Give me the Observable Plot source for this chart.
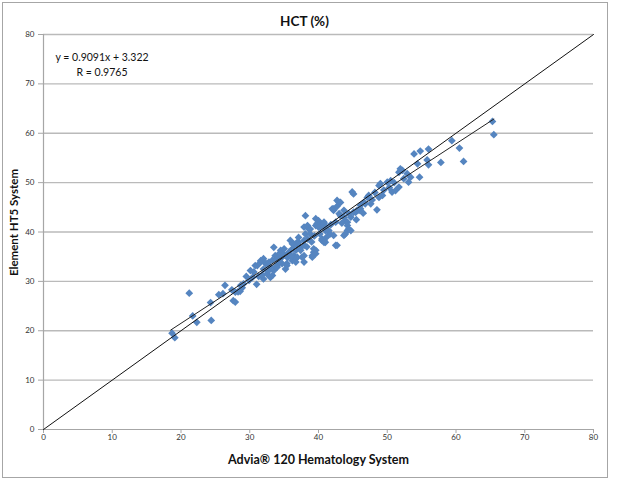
<!DOCTYPE html>
<html><head><meta charset="utf-8">
<script src="https://cdn.jsdelivr.net/npm/d3@7"></script>
<script src="https://cdn.jsdelivr.net/npm/@observablehq/plot@0.6"></script>
<style>
html,body{margin:0;padding:0;background:#fff;}
#chart{position:absolute;left:2px;top:2px;border:1px solid #a6a6a6;width:604px;height:474px;overflow:hidden;background:#fff;}
</style></head><body><div id="chart"></div>
<script>
// Advia 120 (x) vs Element HT5 (y) HCT values
const advia = [
18.7,19.1,21.2,21.7,22.3,24.4,24.3,25.5,26.1,26.4,27.4,27.6,27.9,27.9,28.3,28.6,28.7,28.9,29.1,29.9,29.5,
30.1,30.6,30.8,31.0,31.1,31.3,31.6,31.6,32.0,32.0,32.0,32.3,32.5,32.5,32.8,33.0,33.0,33.3,33.5,33.5,33.7,33.3,34.0,34.0,34.0,34.2,34.5,34.5,34.7,34.7,34.9,35.0,35.2,35.4,35.4,30.4,31.8,32.7,33.8,34.3,
35.7,35.7,35.9,36.2,36.2,36.2,36.4,36.4,36.7,36.7,36.7,36.9,36.9,36.9,37.1,37.1,37.4,37.4,37.6,37.9,37.9,37.9,37.9,37.9,38.1,38.1,38.4,38.4,38.6,38.8,38.8,39.1,39.1,39.3,39.3,39.6,39.6,39.6,39.8,39.6,38.3,39.0,39.4,35.5,36.0,
40.0,40.0,40.3,40.3,40.5,40.5,40.8,40.8,40.8,40.8,40.8,41.0,41.0,41.0,41.3,41.5,41.7,42.0,42.2,42.2,42.2,42.5,42.7,42.7,42.7,43.0,43.0,43.2,43.2,43.7,43.7,43.7,43.9,43.9,44.2,44.2,44.2,44.4,44.4,44.7,44.7,44.9,41.8,42.5,43.4,40.2,41.2,
45.1,45.1,45.4,45.6,45.9,46.1,46.1,46.6,46.8,47.1,47.3,47.6,48.5,48.8,48.8,49.0,49.3,45.5,46.5,47.8,48.2,49.5,
50.0,50.5,50.7,51.2,51.7,51.7,51.9,52.2,52.4,52.9,53.1,53.4,53.9,54.4,54.7,54.8,55.8,56.0,56.0,50.3,51.0,
57.8,59.4,60.5,61.1,65.3,65.5
];
const ht5 = [
19.5,18.6,27.6,23.0,21.7,22.1,25.7,27.3,27.5,29.2,28.3,26.1,25.8,27.8,27.9,28.0,29.2,28.7,29.5,30.2,31.0,
32.2,31.9,33.2,29.4,33.2,31.0,33.9,34.2,34.6,32.5,30.5,33.6,33.6,31.5,33.9,32.9,30.8,31.2,32.2,36.9,35.2,34.3,35.2,34.6,32.9,33.6,35.9,36.3,34.9,33.6,35.6,36.6,32.5,33.6,33.2,30.8,31.3,32.1,33.0,34.0,
35.6,35.9,38.3,36.6,37.6,34.2,35.2,37.6,34.6,36.3,33.9,34.9,36.9,37.9,37.9,38.9,36.9,36.3,34.9,37.3,35.2,33.9,38.3,41.0,39.6,43.3,41.3,38.6,40.6,40.6,39.6,35.2,34.9,35.9,36.6,36.3,41.3,42.7,41.7,35.6,37.0,38.0,39.2,34.8,35.0,
42.3,41.0,41.7,41.0,38.6,38.3,41.3,42.0,38.3,37.9,41.7,40.3,41.0,37.9,40.3,40.3,39.6,44.7,44.4,44.7,39.3,37.3,46.4,45.2,37.3,46.0,43.7,43.3,46.0,43.0,44.4,39.3,42.3,39.6,42.0,41.3,40.3,40.6,43.7,40.3,43.0,48.1,41.5,42.0,41.8,39.6,39.0,
47.7,44.0,44.0,44.4,44.4,45.4,44.7,46.0,45.7,47.0,47.4,45.7,44.5,49.4,47.0,49.8,47.4,42.5,43.8,46.5,48.0,48.5,
50.1,50.4,48.1,48.4,49.1,52.1,52.8,52.5,50.8,51.8,50.1,51.1,55.8,53.8,51.1,56.4,54.6,56.8,53.6,49.0,50.0,
54.1,58.5,57.0,54.3,62.4,59.7
];
// Trendline as printed on the chart: y = 0.9091x + 3.322, R = 0.9765
const slope = 0.9091, intercept = 3.322;
const trendX = [d3.min(advia) - 0.2, d3.max(advia)];
const identityX = [0, 80];
const yTicks = [0, 10, 20, 30, 40, 50, 60, 70, 80];
const xTicks = [0, 10, 20, 30, 40, 50, 60, 70, 80];
const titleText = "HCT (%)";
const xLabel = "Advia\u00AE 120 Hematology System";
const yLabel = "Element HT5 System";
const eqLines = ["y = 0.9091x + 3.322", "R = 0.9765"];

const pts = advia.map((x, i) => ({x, y: ht5[i]}));
const trend = trendX.map(x => ({x, y: slope * x + intercept}));
const ident = identityX.map(v => ({x: v, y: v}));

const F = "Lato, 'Open Sans', sans-serif";
const plot = Plot.plot({
  width: 604, height: 474,
  marginLeft: 40, marginRight: 14, marginTop: 31, marginBottom: 48,
  style: {fontFamily: F, background: "#fff", overflow: "visible"},
  x: {domain: [0, 80], ticks: xTicks},
  y: {domain: [0, 80], ticks: yTicks},
  marks: [
    Plot.gridY(yTicks.filter(d => d > 0), {stroke: "#bababa", strokeOpacity: 1, strokeWidth: 1.4}),
    Plot.ruleY([0], {stroke: "#a6a6a6", strokeWidth: 1.2}),
    Plot.ruleX([0], {stroke: "#a6a6a6", strokeWidth: 1.2}),
    Plot.axisX({ticks: xTicks, tickSize: 4, tickPadding: 1, fontSize: 8, stroke: "#a6a6a6", fill: "#333", label: null}),
    Plot.axisY({ticks: yTicks, tickSize: 5, tickPadding: 4, fontSize: 8, stroke: "#a6a6a6", fill: "#333", label: null}),
    Plot.dot(pts, {x: "x", y: "y", symbol: "diamond2", r: 3.5, fill: "#5585c0", stroke: "none"}),
    Plot.line(ident, {x: "x", y: "y", stroke: "#111", strokeWidth: 1}),
    Plot.line(trend, {x: "x", y: "y", stroke: "#222", strokeWidth: 1}),
    Plot.text([titleText], {frameAnchor: "top", dx: -14, dy: -18, fontSize: 13.5, fontWeight: "bold", fill: "#111"}),
    Plot.text([eqLines[0]], {frameAnchor: "top-left", textAnchor: "start", dx: 12, dy: 19, fontSize: 10.5, fill: "#111"}),
    Plot.text([eqLines[1]], {frameAnchor: "top-left", textAnchor: "start", dx: 33, dy: 34, fontSize: 10.5, fill: "#111"}),
    Plot.text([xLabel], {frameAnchor: "bottom", dy: 34, fontSize: 12.5, fontWeight: "bold", fill: "#111"}),
    Plot.text([yLabel], {frameAnchor: "left", textAnchor: "middle", dx: -29.5, dy: -9.5, rotate: -90, fontSize: 11.5, fontWeight: "bold", fill: "#111"})
  ]
});
document.getElementById("chart").appendChild(plot);
</script></body></html>
